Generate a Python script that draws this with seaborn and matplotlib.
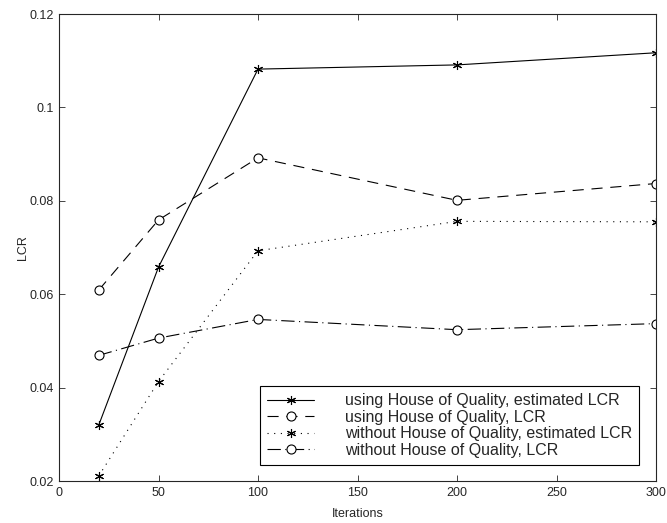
import matplotlib
matplotlib.use("Agg")
import matplotlib.pyplot as plt
import seaborn as sns

iterations = [20, 50, 100, 200, 300]

hoq_est = [0.0320, 0.0658, 0.1082, 0.1091, 0.1117]
hoq_lcr = [0.0609, 0.0759, 0.0892, 0.0801, 0.0837]
no_hoq_est = [0.0211, 0.0413, 0.0693, 0.0756, 0.0755]
no_hoq_lcr = [0.0469, 0.0506, 0.0546, 0.0524, 0.0537]

labels = [
    "using House of Quality, estimated LCR",
    "using House of Quality, LCR",
    "without House of Quality, estimated LCR",
    "without House of Quality, LCR",
]

sns.set_style("ticks")
plt.rcParams["font.family"] = ["Liberation Sans", "DejaVu Sans"]

fig = plt.figure(figsize=(6.67, 5.23), dpi=100)
ax = fig.add_axes([59 / 667, 42 / 523, 597 / 667, 467 / 523])

asterisk = (6, 2, 0)
series = [
    (hoq_est, "-", asterisk),
    (hoq_lcr, (0, (10, 7)), "o"),
    (no_hoq_est, (0, (1, 5)), asterisk),
    (no_hoq_lcr, (0, (12, 4, 1, 4)), "o"),
]

for (vals, ls, mk), lab in zip(series, labels):
    sns.lineplot(x=iterations, y=vals, ax=ax, color="black", linewidth=0.8,
                 linestyle=ls, marker=mk, markersize=6.5, markerfacecolor="white",
                 markeredgecolor="black", markeredgewidth=0.8, label=lab)

ax.set_xlim(0, 300)
ax.set_ylim(0.02, 0.12)
ax.set_xticks([0, 50, 100, 150, 200, 250, 300])
ax.set_yticks([0.02, 0.04, 0.06, 0.08, 0.1, 0.12])
ax.set_yticklabels(["0.02", "0.04", "0.06", "0.08", "0.1", "0.12"])
ax.tick_params(direction="in", top=True, right=True, labelsize=9, length=4,
               width=0.6, pad=4)
for sp in ax.spines.values():
    sp.set_linewidth(0.8)
ax.set_xlabel("Iterations", fontsize=9, labelpad=7)
ax.set_ylabel("LCR", fontsize=9, labelpad=0)

leg = ax.legend(loc="lower right", bbox_to_anchor=(0.9715, 0.034), fontsize=11.5,
                frameon=True, fancybox=False, edgecolor="black", framealpha=1,
                handlelength=2.95, handletextpad=1.9, labelspacing=0.1,
                borderpad=0.45, borderaxespad=0)
leg.get_frame().set_linewidth(0.8)

fig.savefig("out.png", dpi=100)
